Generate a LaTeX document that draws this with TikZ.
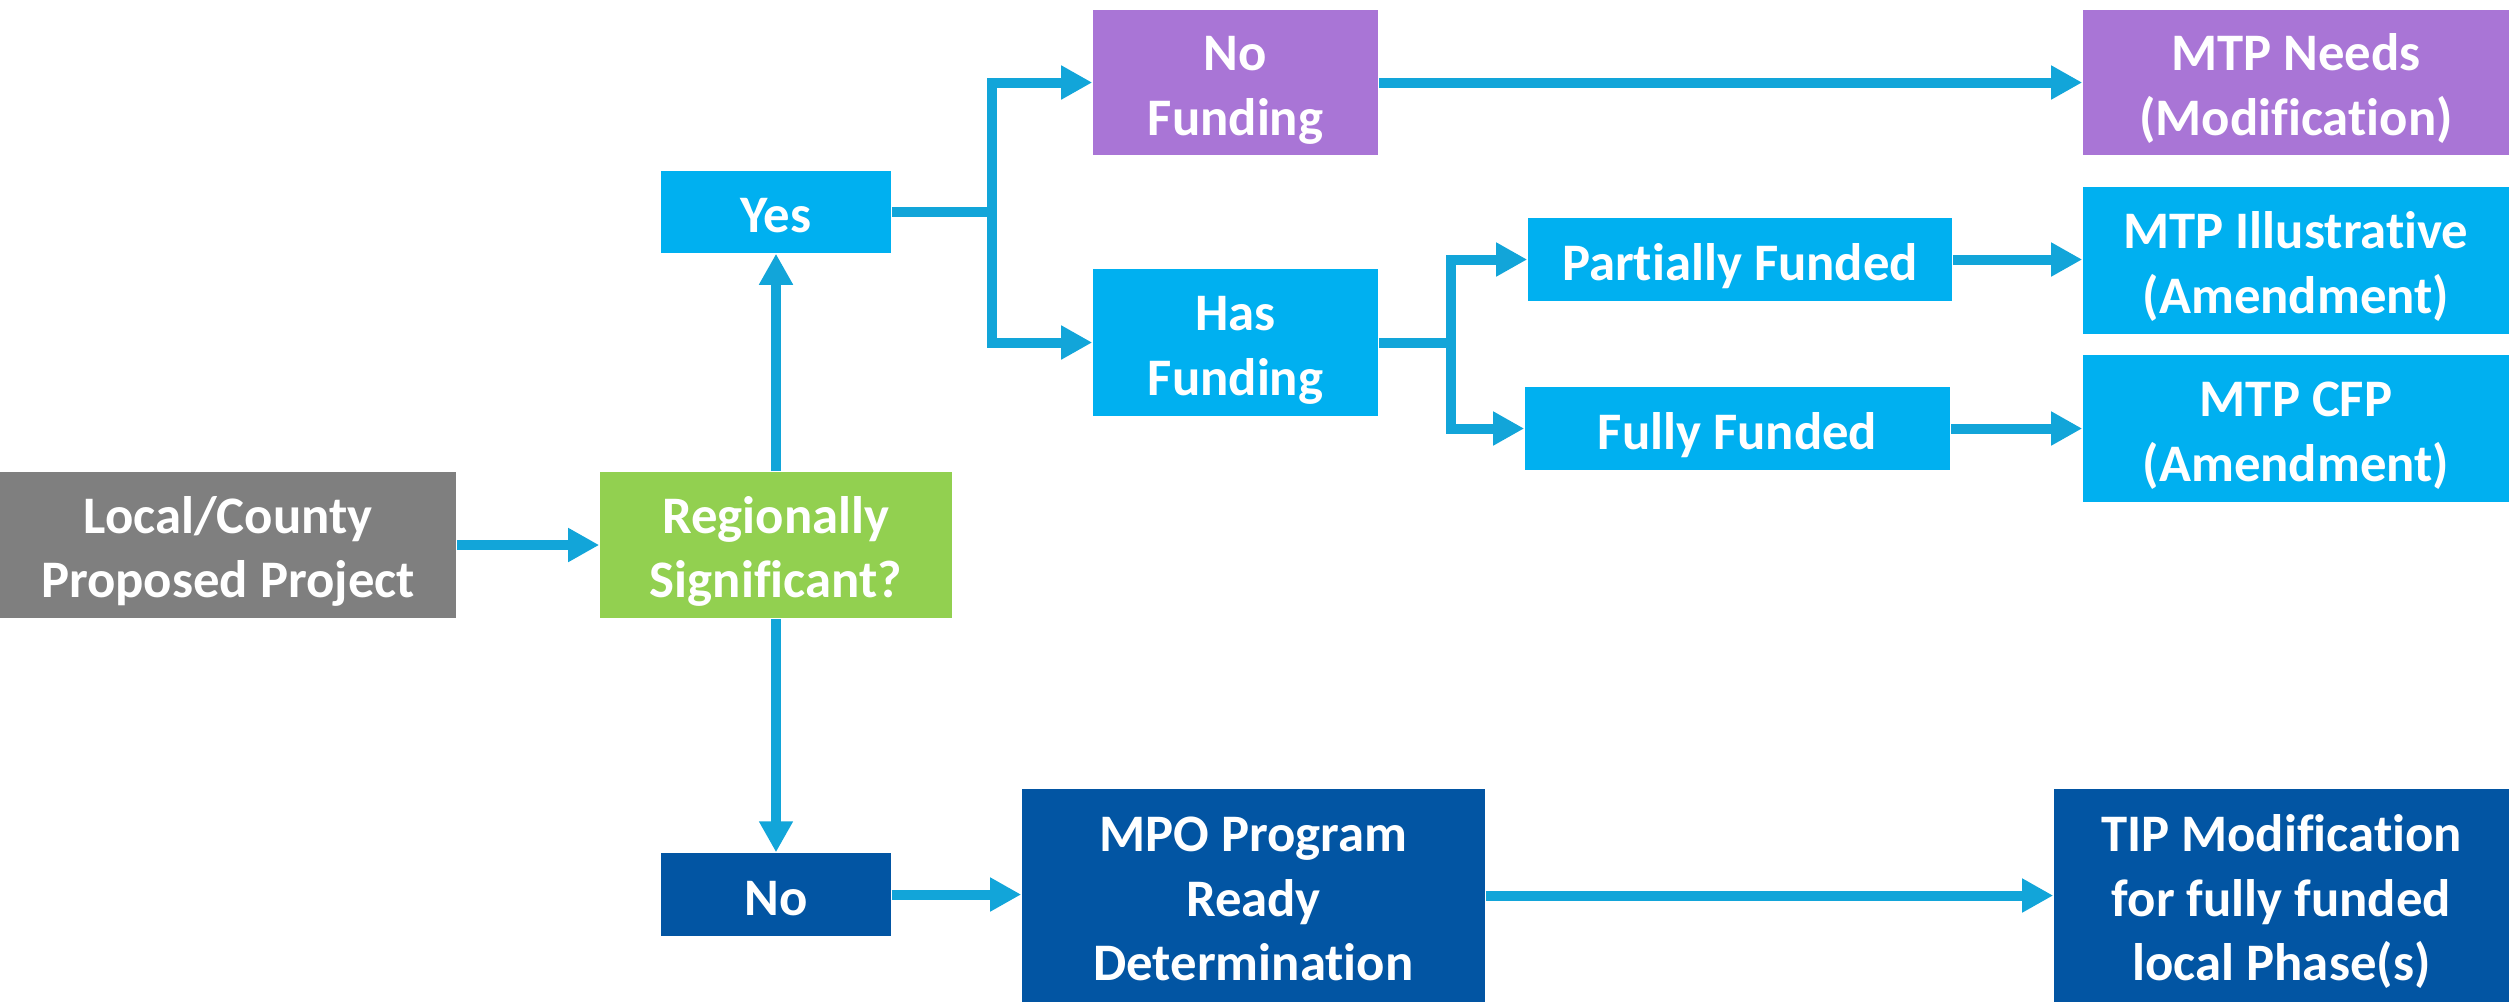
\documentclass[tikz,border=0pt]{standalone}
\usepackage{fontspec}
\setmainfont{Carlito}[Ligatures=NoCommon]
\usetikzlibrary{arrows.meta}
\definecolor{cgray}{HTML}{7F7F7F}
\definecolor{cgreen}{HTML}{92D050}
\definecolor{ccyan}{HTML}{00B0F0}
\definecolor{cpurple}{HTML}{A975D6}
\definecolor{cnavy}{HTML}{0255A3}
\definecolor{carrow}{HTML}{12A5D9}
\newcommand\boxtext[1]{\raisebox{0pt}[\dimexpr\height+4.4pt\relax][\depth]{\begin{tabular}{@{}c@{}}#1\end{tabular}}}
\tikzset{
  box/.style={rectangle, inner sep=0pt, text=white,
    font=\fontsize{15pt}{18.3pt}\selectfont\bfseries},
  conn/.style={draw=carrow, line width=0.1cm, line join=miter,
    -{Triangle[length=3.1mm,width=3.2mm]}},
  plain/.style={draw=carrow, line width=0.1cm, line join=miter}
}
\begin{document}
\begin{tikzpicture}[x=0.01cm,y=-0.01cm]
\useasboundingbox (0,0) rectangle (2509,1002);
\node[box, fill=cgray, minimum width=4.56cm, minimum height=1.46cm] (local) at (228,545) {\boxtext{Local/County\\Proposed Project}};
\node[box, fill=cgreen, minimum width=3.52cm, minimum height=1.46cm] (reg) at (776,545) {\boxtext{Regionally\\Significant?}};
\node[box, fill=ccyan, minimum width=2.30cm, minimum height=0.82cm] (yes) at (776,212) {\boxtext{Yes}};
\node[box, fill=cnavy, minimum width=2.30cm, minimum height=0.83cm] (no) at (776,894.5) {\boxtext{No}};
\node[box, fill=cpurple, minimum width=2.85cm, minimum height=1.45cm] (nofund) at (1235.5,82.5) {\boxtext{No\\Funding}};
\node[box, fill=ccyan, minimum width=2.85cm, minimum height=1.47cm] (hasfund) at (1235.5,342.5) {\boxtext{Has\\Funding}};
\node[box, fill=ccyan, minimum width=4.24cm, minimum height=0.83cm] (partial) at (1740,259.5) {\boxtext{Partially Funded}};
\node[box, fill=ccyan, minimum width=4.25cm, minimum height=0.83cm] (fully) at (1737.5,428.5) {\boxtext{Fully Funded}};
\node[box, fill=cpurple, minimum width=4.26cm, minimum height=1.45cm] (needs) at (2296,82.5) {\boxtext{MTP Needs\\(Modification)}};
\node[box, fill=ccyan, minimum width=4.26cm, minimum height=1.47cm] (illus) at (2296,260.5) {\boxtext{MTP Illustrative\\(Amendment)}};
\node[box, fill=ccyan, minimum width=4.26cm, minimum height=1.47cm] (cfp) at (2296,428.5) {\boxtext{MTP CFP\\(Amendment)}};
\node[box, fill=cnavy, minimum width=4.63cm, minimum height=2.13cm] (mpo) at (1253.5,895.5) {\boxtext{MPO Program\\Ready\\Determination}};
\node[box, fill=cnavy, minimum width=4.55cm, minimum height=2.13cm] (tip) at (2281.5,895.5) {\boxtext{TIP Modification\\for fully funded\\local Phase(s)}};
\coordinate (j1) at (992,212);
\coordinate (j2) at (1451,342.5);
% connectors
\draw[conn] (local.east) -- (local.east -| reg.west);
\draw[conn] (reg.north) -- (yes.south);
\draw[conn] (reg.south) -- (no.north);
\draw[plain] (yes.east) -- (j1);
\draw[conn] (j1) |- (nofund.west);
\draw[conn] (j1) |- (hasfund.west);
\draw[conn] (nofund.east) -- (nofund.east -| needs.west);
\draw[plain] (hasfund.east) -- (j2);
\draw[conn] (j2) |- (partial.west);
\draw[conn] (j2) |- (fully.west);
\draw[conn] (partial.east) -- (partial.east -| illus.west);
\draw[conn] (fully.east) -- (fully.east -| cfp.west);
\draw[conn] (no.east) -- (no.east -| mpo.west);
\draw[conn] (mpo.east) -- (mpo.east -| tip.west);
\end{tikzpicture}
\end{document}
